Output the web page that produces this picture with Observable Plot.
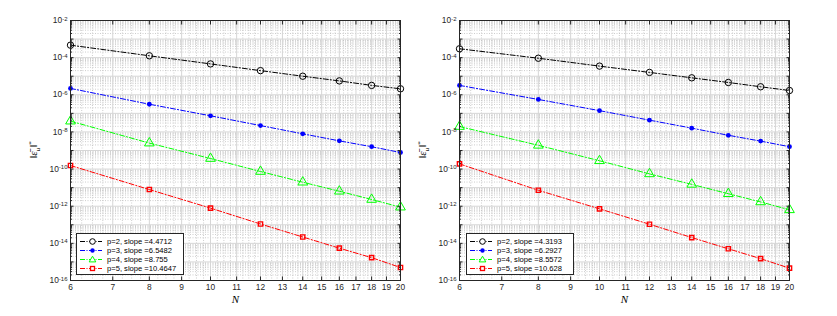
<!DOCTYPE html>
<html><head><meta charset="utf-8">
<script src="https://cdn.jsdelivr.net/npm/d3@7"></script>
<script src="https://cdn.jsdelivr.net/npm/@observablehq/plot@0.6"></script>
<style>
body{margin:0;background:#fff;font-family:"Liberation Sans",Arial,sans-serif;}
#wrap{position:relative;width:837px;height:316px;display:flex;}
#wrap svg{display:block;}
.legend{position:absolute;background:#fff;border:1px solid #262626;box-sizing:border-box;padding:3px 0 0 2px;}
.legend .row{display:flex;align-items:center;height:9px;font-size:7.6px;color:#000;white-space:nowrap;}
.legend .row svg{margin-right:4px;}
</style></head><body><div id="wrap"></div>
<script>
// ---------- data ----------
const N = [6, 8, 10, 12, 14, 16, 18, 20];
const xTicks = [6, 7, 8, 9, 10, 11, 12, 13, 14, 15, 16, 17, 18, 19, 20];
const yTicks = [1e-2, 1e-4, 1e-6, 1e-8, 1e-10, 1e-12, 1e-14, 1e-16];
const seriesNames = ["p=2", "p=3", "p=4", "p=5"];
const leftSlopes = ["4.4712", "6.5482", "8.755", "10.4647"];
const rightSlopes = ["4.3193", "6.2927", "8.5572", "10.628"];

const leftP2 = [4.7e-4, 1.26e-4, 4.6e-5, 2.0e-5, 1.0e-5, 5.6e-6, 3.2e-6, 2.1e-6];
const leftP3 = [2.2e-6, 3.1e-7, 7.4e-8, 2.2e-8, 7.9e-9, 3.3e-9, 1.6e-9, 7.8e-10];
const leftP4 = [3.8e-8, 2.5e-9, 3.7e-10, 7.4e-11, 1.96e-11, 6.4e-12, 2.3e-12, 8.9e-13];
const leftP5 = [1.55e-10, 7.9e-12, 7.9e-13, 1.1e-13, 2.2e-14, 5.5e-15, 1.7e-15, 5.0e-16];

const rightP2 = [3.0e-4, 9.3e-5, 3.5e-5, 1.6e-5, 8.2e-6, 4.6e-6, 2.7e-6, 1.7e-6];
const rightP3 = [3.2e-6, 5.6e-7, 1.4e-7, 4.3e-8, 1.6e-8, 6.6e-9, 3.2e-9, 1.6e-9];
const rightP4 = [1.95e-8, 1.9e-9, 2.8e-10, 5.5e-11, 1.5e-11, 4.7e-12, 1.7e-12, 6.4e-13];
const rightP5 = [1.9e-10, 7.2e-12, 7.2e-13, 1.07e-13, 2.05e-14, 5.1e-15, 1.5e-15, 4.6e-16];

// ---------- styles ----------
const colors = ["#000000", "#0000ff", "#00ff00", "#ff0000"];
const dash = "5,2,1.2,2";
const axisColor = "#262626";

const decades = d3.range(-16, -1).map(e => Math.pow(10, e));
const yMinor = [];
for (let e = -16; e < -2; e++) for (let k = 2; k <= 9; k++) yMinor.push(k * Math.pow(10, e));
const xMinor = d3.range(6, 20.001, 0.25).filter(v => Math.abs(v - Math.round(v)) > 1e-9);

function panel(series, opts) {
  const rows = [];
  series.forEach((vals, i) => vals.forEach((v, j) => rows.push({N: N[j], v, s: i})));
  const fmtAll = {ticks: Infinity};
  const marks = [
    Plot.ruleX(xMinor, {x: d => d, stroke: "#b8b8b8", strokeOpacity: 0.7, strokeDasharray: "1,1.5"}),
    Plot.ruleY(yMinor, {y: d => d, stroke: "#b8b8b8", strokeOpacity: 0.7, strokeDasharray: "1,1.5"}),
    Plot.ruleX(xTicks, {x: d => d, stroke: "#d6d6d6"}),
    Plot.ruleY(decades, {y: d => d, stroke: "#d6d6d6"}),
  ];
  series.forEach((vals, i) => {
    const d = rows.filter(r => r.s === i);
    marks.push(Plot.line(d, {x: "N", y: "v", stroke: colors[i], strokeWidth: 1, strokeDasharray: dash}));
    if (i === 1) marks.push(Plot.dot(d, {x: "N", y: "v", fill: colors[i], r: 2.4, symbol: "circle"}));
    else if (i === 3) marks.push(Plot.dot(d, {x: "N", y: "v", stroke: colors[i], strokeWidth: 1.4, fill: "none", r: 2.4, symbol: "square"}));
    else if (i === 2) marks.push(Plot.dot(d, {x: "N", y: "v", stroke: colors[i], strokeWidth: 1, fill: "none", r: 3.6, symbol: "triangle"}));
    else marks.push(Plot.dot(d, {x: "N", y: "v", stroke: colors[i], strokeWidth: 1, fill: "none", r: 3.2, symbol: "circle"}));
  });
  marks.push(
    Plot.frame({stroke: axisColor, strokeWidth: 1}),
    Plot.text(xTicks, {x: d => d, frameAnchor: "bottom", dy: 9, text: d => String(d), fill: axisColor, fontSize: 8.4}),
    Plot.axisX(xTicks, {anchor: "bottom", tickSize: -3.5, fill: "none", stroke: axisColor, label: null, ...fmtAll}),
    Plot.axisX(xTicks, {anchor: "top", tickSize: -3.5, fill: "none", stroke: axisColor, label: null, ...fmtAll}),
    Plot.text(yTicks, {y: d => d, frameAnchor: "left", dx: -3, textAnchor: "end", text: d => "E" + Math.round(Math.log10(d)), fill: axisColor, fontSize: 8.4}),
    Plot.axisY(decades, {anchor: "left", tickSize: -3.5, fill: "none", stroke: axisColor, label: null, ...fmtAll}),
    Plot.axisY(yMinor, {anchor: "left", tickSize: -2, fill: "none", stroke: axisColor, label: null, ...fmtAll}),
    Plot.axisY(decades, {anchor: "right", tickSize: -3.5, fill: "none", stroke: axisColor, label: null, ...fmtAll}),
    Plot.axisY(yMinor, {anchor: "right", tickSize: -2, fill: "none", stroke: axisColor, label: null, ...fmtAll}),
    Plot.text(["N"], {frameAnchor: "bottom", dy: 22, text: d => d, fontFamily: "Liberation Serif, DejaVu Serif, serif", fontStyle: "italic", fontSize: 11, fill: "#000"})
  );
  const svg = Plot.plot({
    width: opts.width, height: 316,
    marginTop: 20, marginBottom: 36, marginLeft: opts.marginLeft, marginRight: opts.marginRight,
    style: {fontFamily: "Liberation Sans, Arial, sans-serif", fontSize: "8.4px", background: "#fff", color: axisColor, overflow: "visible"},
    x: {type: "log", domain: [6, 20]},
    y: {type: "log", domain: [1e-16, 1e-2]},
    marks
  });
  // superscript exponents on y tick labels
  d3.select(svg).selectAll("text").each(function() {
    const t = this.textContent;
    if (/^E-?\d+$/.test(t)) {
      const e = t.slice(1);
      const sel = d3.select(this);
      sel.text("");
      sel.append("tspan").text("10");
      sel.append("tspan").attr("dy", "-0.45em").attr("font-size", "6px").text(e);
    }
  });
  // y label ‖ε̄_u‖*
  const lab = d3.select(svg).append("text")
    .attr("transform", `translate(${opts.labelX},150) rotate(-90)`)
    .attr("text-anchor", "middle")
    .attr("font-family", "Liberation Serif, DejaVu Serif, serif")
    .attr("font-size", 11).attr("fill", "#000");
  lab.append("tspan").text("\u2016");
  lab.append("tspan").attr("font-style", "italic").text("\u03B5\u0304");
  lab.append("tspan").attr("font-style", "italic").attr("font-size", 7).attr("dy", "2.5").text("u");
  lab.append("tspan").attr("dy", "-2.5").text("\u2016");
  lab.append("tspan").attr("font-size", 7).attr("dy", "-4").text("*");
  return svg;
}

function legend(slopes, left, top) {
  const div = document.createElement("div");
  div.className = "legend";
  div.style.left = left + "px"; div.style.top = top + "px";
  div.style.width = "108px"; div.style.height = "42px";
  seriesNames.forEach((name, i) => {
    const row = document.createElement("div");
    row.className = "row";
    const s = d3.create("svg").attr("width", 24).attr("height", 9);
    s.append("line").attr("x1", 1).attr("x2", 23).attr("y1", 4.5).attr("y2", 4.5)
      .attr("stroke", colors[i]).attr("stroke-dasharray", "5,1.5,1,1.5").attr("stroke-width", 1);
    const cx = 13.5, cy = 4.5;
    if (i === 0) s.append("circle").attr("cx", cx).attr("cy", cy).attr("r", 2.8).attr("fill", "#fff").attr("stroke", colors[i]);
    if (i === 1) s.append("circle").attr("cx", cx).attr("cy", cy).attr("r", 2.2).attr("fill", colors[i]);
    if (i === 2) s.append("path").attr("d", `M${cx},${cy-3.3}L${cx+3.3},${cy+2.4}L${cx-3.3},${cy+2.4}Z`).attr("fill", "#fff").attr("stroke", colors[i]);
    if (i === 3) s.append("rect").attr("x", cx-2).attr("y", cy-2).attr("width", 4).attr("height", 4).attr("fill", "#fff").attr("stroke", colors[i]).attr("stroke-width", 1.3);
    row.appendChild(s.node());
    const sp = document.createElement("span");
    sp.textContent = `${name}, slope =${slopes[i]}`;
    row.appendChild(sp);
    div.appendChild(row);
  });
  return div;
}

const wrap = document.getElementById("wrap");
wrap.appendChild(panel([leftP2, leftP3, leftP4, leftP5], {width: 418, marginLeft: 70, marginRight: 18, labelX: 37}));
wrap.appendChild(panel([rightP2, rightP3, rightP4, rightP5], {width: 419, marginLeft: 41, marginRight: 48, labelX: 8}));
wrap.appendChild(legend(leftSlopes, 76, 233));
wrap.appendChild(legend(rightSlopes, 466, 233));
</script></body></html>
